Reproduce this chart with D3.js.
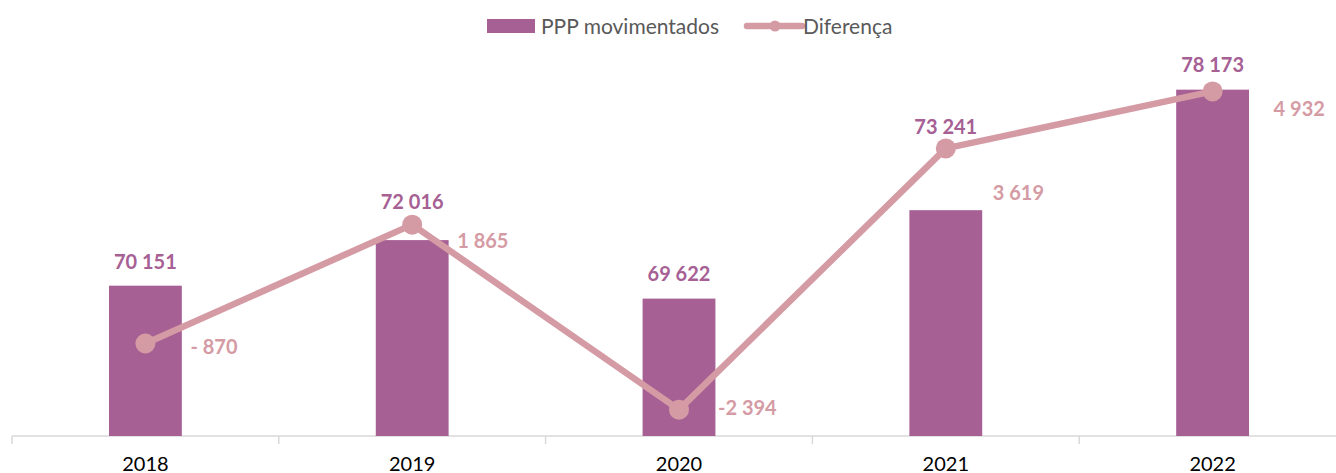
<!DOCTYPE html>
<html>
<head>
  <meta charset="utf-8">
  <title>PPP movimentados</title>
  <style>
    body { margin: 0; background: #fff; }
    svg { display: block; font-family: Lato, "Open Sans", sans-serif; }
  </style>
</head>
<body>
  <script src="https://cdn.jsdelivr.net/npm/d3@7"></script>
  <script>
// data
const years = ["2018", "2019", "2020", "2021", "2022"];
const moved = [70151, 72016, 69622, 73241, 78173];
const diff = [-870, 1865, -2394, 3619, 4932];
const diffLabels = ["- 870", "1 865", "-2 394", "3 619", "4 932"];
const barDomain = [64000, 80000];
const diffDomain = [-3000, 6000];

// label nudges (label placement in the original was hand-adjusted)
const barLabelDy = [-24, -38, -25, -83, -25];
const diffLabelDx = [45, 45, 39, 47, 61];
const diffLabelDy = [4, 16, -2, 45, 18];

const width = 1336, height = 473;
const margin = { top: 45, right: -10, bottom: 37, left: 12 };
const innerW = width - margin.left - margin.right;
const innerH = height - margin.top - margin.bottom;

const barColor = "#a66094";
const lineColor = "#d59ba4";

const svg = d3.select("body").append("svg")
  .attr("width", width)
  .attr("height", height);

const g = svg.append("g")
  .attr("transform", `translate(${margin.left},${margin.top})`);

const x = d3.scaleBand().domain(years).range([0, innerW]).paddingInner(0.727).paddingOuter(0.3635);
const xc = d3.scalePoint().domain(years).range([0, innerW]).padding(0.5);
const y = d3.scaleLinear().domain(barDomain).range([innerH, 0]);
const y2 = d3.scaleLinear().domain(diffDomain).range([innerH, 0]);

const fmt = d3.formatLocale({ decimal: ",", thousands: " ", grouping: [3], currency: ["", ""] }).format(",d");

// x axis with ticks between categories
const axis = g.append("g").attr("transform", `translate(0,${innerH})`);
axis.append("line")
  .attr("x1", 0).attr("x2", width)
  .attr("stroke", "#d9d9d9").attr("stroke-width", 1.5);
const step = innerW / years.length;
axis.selectAll(".tick")
  .data(d3.range(years.length + 1))
  .join("line")
  .attr("x1", d => d * step).attr("x2", d => d * step)
  .attr("y1", 0).attr("y2", 8)
  .attr("stroke", "#d9d9d9").attr("stroke-width", 1.5);
axis.selectAll(".year")
  .data(years)
  .join("text")
  .attr("x", d => xc(d))
  .attr("y", 34.5)
  .attr("text-anchor", "middle")
  .attr("font-size", 20)
  .attr("fill", "#000")
  .text(d => d);

// bars
g.selectAll(".bar")
  .data(years)
  .join("rect")
  .attr("x", d => xc(d) - x.bandwidth() / 2)
  .attr("width", x.bandwidth())
  .attr("y", (d, i) => y(moved[i]))
  .attr("height", (d, i) => innerH - y(moved[i]))
  .attr("fill", barColor);

// line
const line = d3.line()
  .x((d, i) => xc(years[i]))
  .y(d => y2(d));
g.append("path")
  .datum(diff)
  .attr("d", line)
  .attr("fill", "none")
  .attr("stroke", lineColor)
  .attr("stroke-width", 6.5)
  .attr("stroke-linejoin", "round");
g.selectAll(".dot")
  .data(diff)
  .join("circle")
  .attr("cx", (d, i) => xc(years[i]))
  .attr("cy", d => y2(d))
  .attr("r", 10)
  .attr("fill", lineColor);

// bar labels
g.selectAll(".blab")
  .data(moved)
  .join("text")
  .attr("x", (d, i) => xc(years[i]))
  .attr("y", (d, i) => y(d) + barLabelDy[i] + 7)
  .attr("text-anchor", "middle")
  .attr("font-size", 20)
  .attr("font-weight", "bold")
  .attr("fill", barColor)
  .text(d => fmt(d));

// diff labels
g.selectAll(".dlab")
  .data(diff)
  .join("text")
  .attr("x", (d, i) => xc(years[i]) + diffLabelDx[i])
  .attr("y", (d, i) => y2(d) + diffLabelDy[i] + 7)
  .attr("font-size", 20)
  .attr("font-weight", "bold")
  .attr("fill", lineColor)
  .text((d, i) => diffLabels[i]);

// legend
const leg = svg.append("g").attr("transform", "translate(487,26)");
leg.append("rect").attr("x", 0).attr("y", -7).attr("width", 48).attr("height", 14).attr("fill", barColor);
leg.append("text").attr("x", 54).attr("y", 7.5).attr("font-size", 21).attr("fill", "#595959").text("PPP movimentados");
leg.append("line").attr("x1", 260).attr("x2", 315).attr("y1", 0).attr("y2", 0)
  .attr("stroke", lineColor).attr("stroke-width", 6.5).attr("stroke-linecap", "round");
leg.append("circle").attr("cx", 288).attr("cy", 0).attr("r", 5.5).attr("fill", lineColor);
leg.append("text").attr("x", 316).attr("y", 7.5).attr("font-size", 21).attr("fill", "#595959").text("Diferença");
  </script>
</body>
</html>
